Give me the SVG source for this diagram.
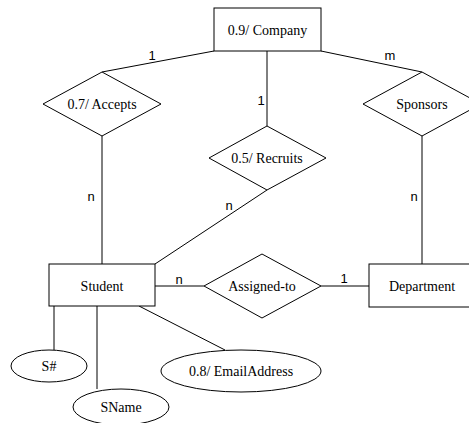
<svg xmlns="http://www.w3.org/2000/svg" width="469" height="423" viewBox="0 0 469 423">
<style>
.s{fill:#fff;stroke:#000;stroke-width:1}
.t{font-family:'Liberation Serif','Times New Roman','DejaVu Serif',serif;font-size:14px;text-anchor:middle;fill:#000}
.l{font-family:'Liberation Sans',Arial,sans-serif;font-size:13px;text-anchor:middle;fill:#000}
.c line{stroke:#000;stroke-width:1}
</style>
<rect width="469" height="423" fill="#fff"/>
<g class="c" id="connectors">
<line x1="214" y1="51" x2="102" y2="72"/>
<line x1="321" y1="51" x2="422" y2="72"/>
<line x1="267" y1="51" x2="267" y2="126"/>
<line x1="102" y1="136" x2="102" y2="264"/>
<line x1="422" y1="136" x2="422" y2="264"/>
<line x1="267" y1="190" x2="155" y2="264"/>
<line x1="155" y1="286" x2="204" y2="286"/>
<line x1="321" y1="286" x2="369" y2="286"/>
<line x1="54" y1="306" x2="54" y2="350"/>
<line x1="97" y1="306" x2="97" y2="389"/>
<line x1="139" y1="306" x2="225" y2="350"/>
<text class="l" x="152" y="60">1</text>
<text class="l" x="390" y="60">m</text>
<text class="l" x="261" y="105">1</text>
<text class="l" x="91" y="201">n</text>
<text class="l" x="229" y="210">n</text>
<text class="l" x="414" y="201">n</text>
<text class="l" x="179" y="284">n</text>
<text class="l" x="344" y="283">1</text>
</g>
<g id="company"><rect class="s" x="214" y="8" width="107" height="43"/><text class="t" x="267.5" y="35">0.9/ Company</text></g>
<g id="accepts"><polygon class="s" points="102,72 161,104 102,136 43,104"/><text class="t" x="102" y="109">0.7/ Accepts</text></g>
<g id="sponsors"><polygon class="s" points="422,72 481,104 422,136 363,104"/><text class="t" x="422" y="109">Sponsors</text></g>
<g id="recruits"><polygon class="s" points="267,126 326,158 267,190 209,158"/><text class="t" x="267" y="163">0.5/ Recruits</text></g>
<g id="student"><rect class="s" x="49" y="264" width="106" height="42"/><text class="t" x="102" y="291">Student</text></g>
<g id="assigned"><polygon class="s" points="262,254 321,286 262,318 204,286"/><text class="t" x="262" y="291">Assigned-to</text></g>
<g id="department"><rect class="s" x="369" y="264" width="106" height="43"/><text class="t" x="422" y="291">Department</text></g>
<g id="snum"><ellipse class="s" cx="49" cy="366" rx="38" ry="16"/><text class="t" x="49" y="371">S#</text></g>
<g id="sname"><ellipse class="s" cx="121" cy="407" rx="48" ry="18"/><text class="t" x="121" y="412">SName</text></g>
<g id="email"><ellipse class="s" cx="241" cy="371" rx="80" ry="21"/><text class="t" x="241" y="376">0.8/ EmailAddress</text></g>
</svg>
